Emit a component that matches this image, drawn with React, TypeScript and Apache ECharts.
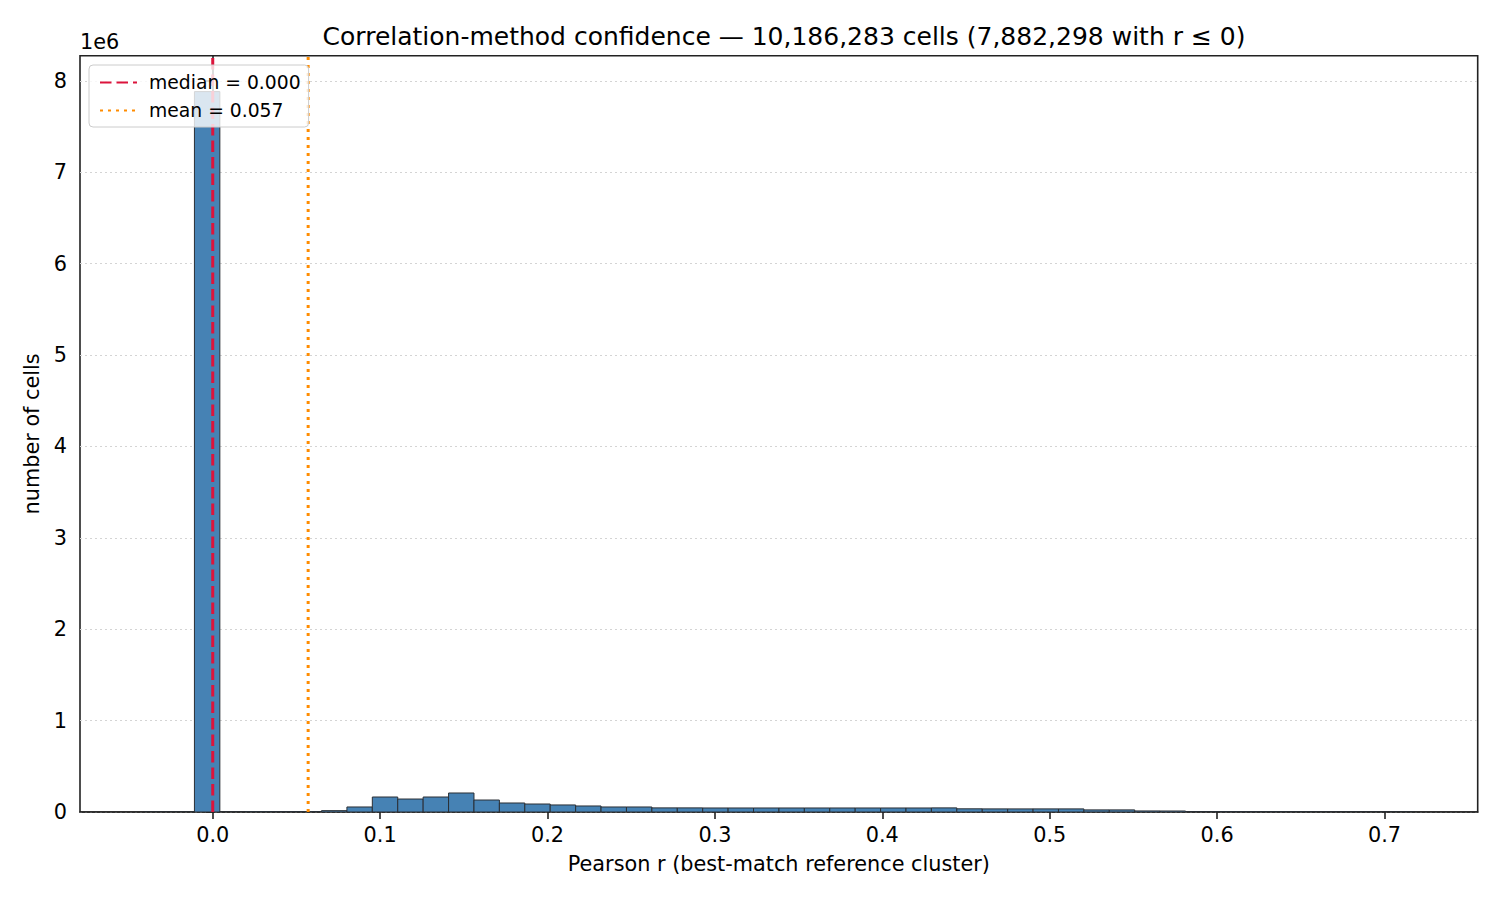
import React, { useEffect, useRef } from "react";
import * as echarts from "echarts";

// ---- data ----
const titleText = "Correlation-method confidence — 10,186,283 cells (7,882,298 with r ≤ 0)";
const xLabel = "Pearson r (best-match reference cluster)";
const yLabel = "number of cells";
const binStart = -0.0413;
const binWidth = 0.015182;
const binCounts = [
  3, 40, 7883500, 300, 1500, 2500, 4000, 14600, 55000, 164000,
  142000, 164000, 208000, 131000, 98500, 87500, 77000, 66000, 55000, 55000,
  45000, 45000, 44000, 44000, 44000, 44000, 44000, 44000, 44000, 44000,
  44000, 45000, 35000, 34000, 34000, 34000, 34000, 23000, 23000, 11500,
  11000, 5000, 3500, 2500, 1500, 600, 200, 60, 15, 3,
];
const medianValue = 0.0;
const meanValue = 0.057;
const xTicks = [0, 0.1, 0.2, 0.3, 0.4, 0.5, 0.6, 0.7];
const yTicks = [0, 1e6, 2e6, 3e6, 4e6, 5e6, 6e6, 7e6, 8e6];
const xMin = -0.0793;
const xMax = 0.7557;
const yMax = 8.2764e6;

const FONT = "DejaVu Sans";

export default function App() {
  const ref = useRef<HTMLDivElement>(null);
  useEffect(() => {
    if (!ref.current) return;
    const chart = echarts.init(ref.current, null, { renderer: "svg" });
    const bins = binCounts.map((c, i) => [binStart + i * binWidth, binStart + (i + 1) * binWidth, c]);
    const option: any = {
      animation: false,
      backgroundColor: "#ffffff",
      textStyle: { fontFamily: FONT },
      title: {
        text: titleText,
        left: 779,
        top: 19,
        textAlign: "center",
        textStyle: { fontFamily: FONT, fontSize: 25, fontWeight: "normal", color: "#000" },
      },
      graphic: [
        {
          type: "text",
          x: 80,
          y: 42,
          style: {
            text: "1e6",
            fontFamily: FONT,
            fontSize: 20.8,
            fill: "#000",
            textAlign: "left",
            textVerticalAlign: "middle",
          },
        },
      ],
      grid: {
        left: 80,
        right: 22.3,
        top: 55.7,
        bottom: 88,
        show: true,
        borderColor: "#222",
        borderWidth: 1.6,
        containLabel: false,
      },
      legend: {
        orient: "vertical",
        left: 89,
        top: 65,
        padding: [8, 8, 7, 10],
        itemGap: 9,
        itemWidth: 37,
        itemHeight: 14,
        backgroundColor: "rgba(255,255,255,0.8)",
        borderColor: "#cccccc",
        borderWidth: 1,
        borderRadius: 4,
        itemStyle: { opacity: 0, borderWidth: 0 },
        textStyle: { fontFamily: FONT, fontSize: 18.75, color: "#000", padding: [0, 0, 0, 7] },
        data: [`median = ${medianValue.toFixed(3)}`, `mean = ${meanValue.toFixed(3)}`],
      },
      xAxis: {
        type: "value",
        min: xMin,
        max: xMax,
        name: xLabel,
        nameLocation: "middle",
        nameGap: 41,
        nameTextStyle: { fontFamily: FONT, fontSize: 20.8, color: "#000" },
        axisLine: { show: true, onZero: false, lineStyle: { color: "#222", width: 1.6 } },
        axisTick: { show: true, length: 7, customValues: xTicks, lineStyle: { color: "#222", width: 1.6 } },
        axisLabel: {
          customValues: xTicks,
          margin: 12,
          fontFamily: FONT,
          fontSize: 20.8,
          color: "#000",
          formatter: (v: number) => v.toFixed(1),
        },
        splitLine: { show: false },
      },
      yAxis: {
        type: "value",
        min: 0,
        max: yMax,
        interval: 1e6,
        name: yLabel,
        nameLocation: "middle",
        nameRotate: 90,
        nameGap: 38,
        nameTextStyle: { fontFamily: FONT, fontSize: 20.8, color: "#000" },
        axisLine: { show: true, lineStyle: { color: "#222", width: 1.6 } },
        axisTick: { show: true, length: 7, customValues: yTicks, lineStyle: { color: "#222", width: 1.6 } },
        axisLabel: {
          customValues: yTicks,
          margin: 13,
          fontFamily: FONT,
          fontSize: 20.8,
          color: "#000",
          formatter: (v: number) => String(Math.round(v / 1e6)),
        },
        splitLine: { show: true, lineStyle: { color: "#d4d4d4", width: 1, type: [2, 3] } },
      },
      series: [
        {
          type: "custom",
          name: "hist",
          data: bins,
          encode: { x: [0, 1], y: 2 },
          clip: true,
          z: 2,
          renderItem: (params: any, api: any) => {
            const x0 = api.value(0);
            const x1 = api.value(1);
            const c = api.value(2);
            const p0 = api.coord([x0, c]);
            const p1 = api.coord([x1, 0]);
            return {
              type: "rect",
              shape: { x: p0[0], y: p0[1], width: p1[0] - p0[0], height: p1[1] - p0[1] },
              style: { fill: "#4682B4", stroke: "#2a2f35", lineWidth: 1 },
            };
          },
        },
        {
          type: "line",
          name: `median = ${medianValue.toFixed(3)}`,
          data: [[medianValue, 0], [medianValue, yMax]],
          symbol: "none",
          z: 3,
          itemStyle: { color: "#DC143C" },
          lineStyle: { color: "#DC143C", width: 3, type: [11.5, 5], cap: "butt" },
        },
        {
          type: "line",
          name: `mean = ${meanValue.toFixed(3)}`,
          data: [[meanValue, 0], [meanValue, yMax]],
          symbol: "none",
          z: 3,
          itemStyle: { color: "#FF8C00" },
          lineStyle: { color: "#FF8C00", width: 3, type: [3, 5], cap: "butt" },
        },
      ],
    };
    chart.setOption(option);
    return () => chart.dispose();
  }, []);
  return (
    <div
      ref={ref}
      style={{ position: "fixed", left: 0, top: 0, width: 1500, height: 900, background: "#fff" }}
    />
  );
}
